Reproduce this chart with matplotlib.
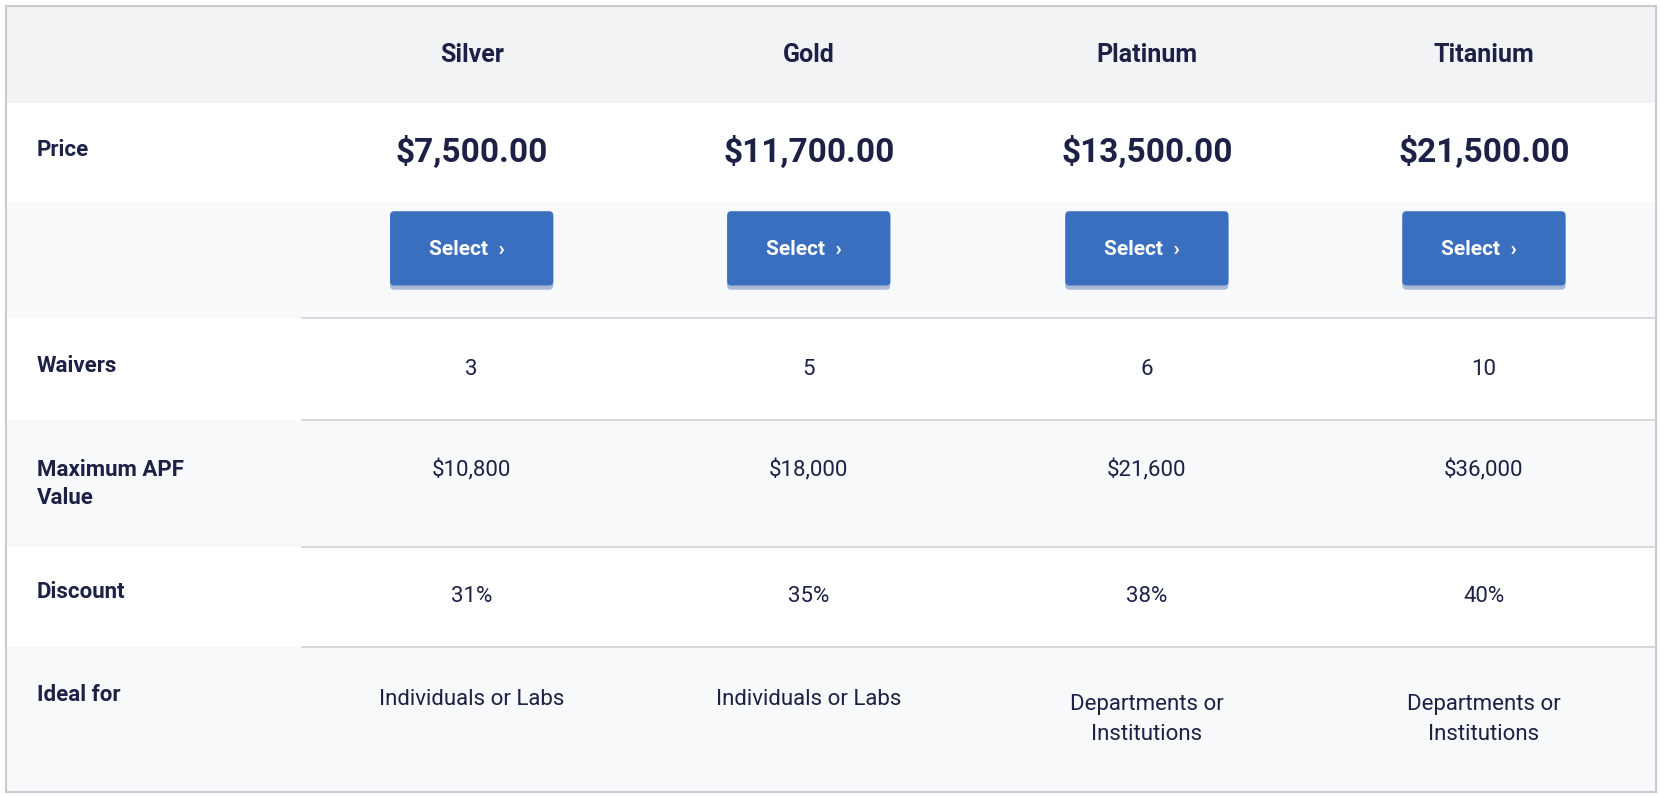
import matplotlib
matplotlib.use("Agg")
import matplotlib.pyplot as plt
from matplotlib.patches import Rectangle, FancyBboxPatch

plans = ["Silver", "Gold", "Platinum", "Titanium"]
prices = ["$7,500.00", "$11,700.00", "$13,500.00", "$21,500.00"]
waivers = ["3", "5", "6", "10"]
apf = ["$10,800", "$18,000", "$21,600", "$36,000"]
discount = ["31%", "35%", "38%", "40%"]
ideal = ["Individuals or Labs", "Individuals or Labs", "Departments or\nInstitutions", "Departments or\nInstitutions"]
row_labels = ["Price", "Waivers", "Maximum APF\nValue", "Discount", "Ideal for"]

W, H = 1568, 750
fig = plt.figure(figsize=(16.62, 7.96), dpi=100)
ax = fig.add_axes([0, 0, 1, 1])
ax.set_xlim(0, W); ax.set_ylim(H, 0); ax.axis("off")
plt.rcParams['font.family'] = ['Roboto', 'DejaVu Sans']
navy = "#1c2145"
light = "#f7f9fb"

# row bands (top, bottom, color)
bands = [(6, 97, "#f2f3f5"), (97, 190, "white"), (190, 300, light), (300, 396, "white"),
         (396, 515, light), (515, 610, "white"), (610, 746, light)]
for t, b, c in bands:
    ax.add_patch(Rectangle((6, t), 1556, b - t, color=c, lw=0))
for y in [300, 396, 515, 610]:
    ax.plot([285, 1562], [y, y], color="#cfd2d6", lw=1.2)
ax.add_patch(Rectangle((6, 6), 1556, 740, fill=False, ec="#c8cbcf", lw=1.5))

cx = [445, 763, 1082, 1400]
for x, p, pr, w, a, d, i in zip(cx, plans, prices, waivers, apf, discount, ideal):
    ax.text(x, 52, p, ha="center", va="center", fontsize=18, fontweight="bold", color=navy)
    ax.text(x, 144, pr, ha="center", va="center", fontsize=24, fontweight="bold", color=navy)
    ax.add_patch(FancyBboxPatch((x - 77, 203), 154, 70, boxstyle="round,pad=0,rounding_size=4",
                                color="#a9b9d6", lw=0))
    ax.add_patch(FancyBboxPatch((x - 77, 199), 154, 70, boxstyle="round,pad=0,rounding_size=4",
                                color="#3a6fbf", lw=0))
    ax.text(x - 5, 235, "Select  \u203a", ha="center", va="center", fontsize=15, fontweight="bold", color="white")
    ax.text(x, 348, w, ha="center", va="center", fontsize=16, color=navy)
    ax.text(x, 443, a, ha="center", va="center", fontsize=16, color=navy)
    ax.text(x, 562, d, ha="center", va="center", fontsize=16, color=navy)
    ax.text(x, 678 if "\n" in i else 659, i, ha="center", va="center", fontsize=16, color=navy, linespacing=1.6)

label_y = [141, 345, 456, 558, 655]
for y, l in zip(label_y, row_labels):
    ax.text(35, y, l, ha="left", va="center", fontsize=16, fontweight="bold", color=navy, linespacing=1.3)

fig.savefig("out.png", dpi=100)
